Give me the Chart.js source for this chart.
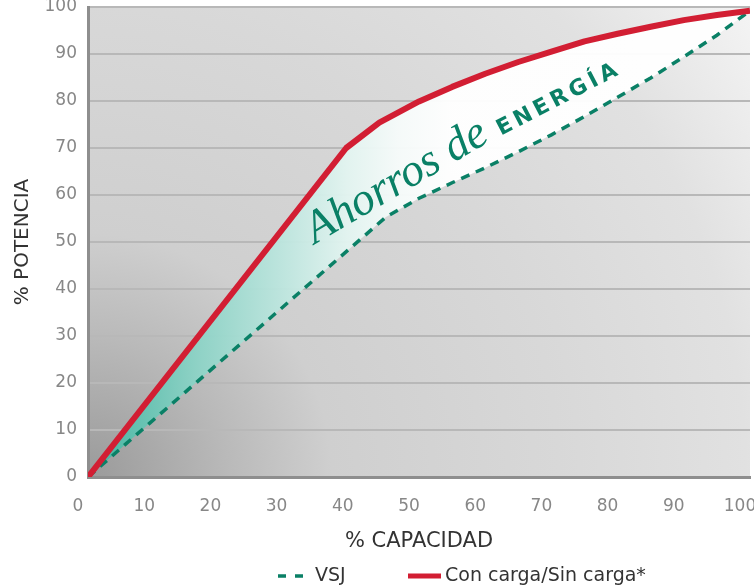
<!DOCTYPE html>
<html>
<head>
<meta charset="utf-8">
<script src="https://cdn.jsdelivr.net/npm/chart.js@4.4.1/dist/chart.umd.min.js"></script>
<style>
  html, body { margin: 0; padding: 0; background: #fff; }
  #wrap { width: 754px; height: 586px; }
</style>
</head>
<body>
<div id="wrap"><canvas id="ahorro-chart"></canvas></div>
<script>
  // % capacidad / % potencia
  var capacidadVSJ = [0, 45, 50, 55, 60, 65, 70, 75, 80, 85, 90, 95, 100];
  var potenciaVSJ = [0, 55.3, 59.3, 62.6, 65.8, 69.2, 72.8, 76.7, 80.8, 84.9, 89.4, 94, 99.2];
  var capacidadCarga = [0, 39, 44, 50, 55, 60, 65, 70, 75, 80, 85, 90, 95, 100];
  var potenciaCarga = [0, 70, 75.4, 79.9, 83, 85.8, 88.3, 90.5, 92.7, 94.3, 95.8, 97.2, 98.3, 99.2];
  var seriesNames = ['VSJ', 'Con carga/Sin carga*'];
  var axisTitles = ['% CAPACIDAD', '% POTENCIA'];
  var tickStep = 10;

  var green = '#0a8066';
  var red = '#d21e33';
  var fontFamily = "'DejaVu Sans', sans-serif";

  function points(xs, ys) {
    return xs.map(function(x, i) { return { x: x, y: ys[i] }; });
  }

  // soft teal -> white fill between both curves
  function savingsFill(context) {
    var chart = context.chart;
    if (!chart.chartArea) return 'rgba(120,200,185,0.8)';
    var xs = chart.scales.x;
    var g = chart.ctx.createLinearGradient(xs.getPixelForValue(0), 0, xs.getPixelForValue(55), 0);
    g.addColorStop(0, 'rgba(60,176,156,0.97)');
    g.addColorStop(0.1, 'rgba(88,190,172,0.96)');
    g.addColorStop(0.3, 'rgba(140,211,198,0.95)');
    g.addColorStop(0.55, 'rgba(192,231,224,0.95)');
    g.addColorStop(0.71, 'rgba(226,244,240,0.96)');
    g.addColorStop(0.85, 'rgba(246,251,250,0.96)');
    g.addColorStop(1, 'rgba(255,255,255,0.96)');
    return g;
  }

  var backdrop = {
    id: 'backdrop',
    beforeDraw: function(chart) {
      var a = chart.chartArea, ctx = chart.ctx;
      if (!a) return;
      var w = a.right - a.left, h = a.bottom - a.top;
      var r = Math.sqrt(w * w + h * h);
      var g = ctx.createRadialGradient(a.left, a.bottom, 0, a.left, a.bottom, r);
      g.addColorStop(0, '#9a9a9a');
      g.addColorStop(0.17, '#b9b9b9');
      g.addColorStop(0.3, '#cfcfcf');
      g.addColorStop(0.58, '#d8d8d8');
      g.addColorStop(0.81, '#e1e1e1');
      g.addColorStop(1, '#f4f4f4');
      ctx.save();
      ctx.fillStyle = g;
      ctx.fillRect(a.left, a.top, w, h);
      ctx.restore();
    }
  };

  var labels = {
    id: 'labels',
    afterDatasetsDraw: function(chart) {
      var ctx = chart.ctx, xs = chart.scales.x, ys = chart.scales.y;
      ctx.save();
      ctx.fillStyle = green;
      ctx.textBaseline = 'alphabetic';
      ctx.translate(xs.getPixelForValue(34.3), ys.getPixelForValue(49.5));
      ctx.rotate(-30.5 * Math.PI / 180);
      ctx.font = "italic 46px 'Liberation Serif', serif";
      ctx.fillText('Ahorros de', 0, 0);
      ctx.restore();

      ctx.save();
      ctx.fillStyle = green;
      ctx.translate(xs.getPixelForValue(62.4), ys.getPixelForValue(72.6));
      ctx.rotate(-27.5 * Math.PI / 180);
      ctx.font = "bold 22px " + fontFamily;
      ctx.letterSpacing = '4px';
      ctx.fillText('ENERGÍA', 0, 0);
      ctx.restore();
    },
    afterDraw: function(chart) {
      // legend row under the axis title
      var ctx = chart.ctx, a = chart.chartArea;
      var y = chart.height - 10;
      var x0 = a.left + 190;
      ctx.save();
      ctx.font = "19px " + fontFamily;
      ctx.fillStyle = '#333';
      ctx.textBaseline = 'middle';
      ctx.strokeStyle = green;
      ctx.lineWidth = 3.5;
      ctx.setLineDash([8, 9]);
      ctx.beginPath();
      ctx.moveTo(x0, y);
      ctx.lineTo(x0 + 26, y);
      ctx.stroke();
      ctx.fillText(seriesNames[0], x0 + 37, y);
      ctx.setLineDash([]);
      ctx.strokeStyle = red;
      ctx.lineWidth = 5;
      ctx.beginPath();
      ctx.moveTo(x0 + 130, y);
      ctx.lineTo(x0 + 163, y);
      ctx.stroke();
      ctx.fillText(seriesNames[1], x0 + 167, y);
      ctx.restore();
    }
  };

  new Chart(document.getElementById('ahorro-chart'), {
    type: 'line',
    data: {
      datasets: [{
        label: seriesNames[0],
        data: points(capacidadVSJ, potenciaVSJ),
        borderColor: green,
        borderWidth: 3.5,
        borderDash: [9, 7],
        pointRadius: 0,
        tension: 0,
        fill: false,
        order: 2
      }, {
        label: seriesNames[1],
        data: points(capacidadCarga, potenciaCarga),
        borderColor: red,
        borderWidth: 6,
        borderJoinStyle: 'round',
        pointRadius: 0,
        tension: 0,
        fill: '-1',
        backgroundColor: savingsFill,
        order: 1
      }]
    },
    options: {
      responsive: true,
      maintainAspectRatio: false,
      animation: false,
      layout: { padding: { left: 11, right: 0, top: 7, bottom: 28 } },
      scales: {
        x: {
          type: 'linear',
          min: 0, max: 100,
          afterFit: function(scale) { scale.paddingRight = 4; scale.paddingLeft = 0; scale.height = 81; },
          ticks: {
            stepSize: tickStep,
            color: '#878787',
            font: { family: fontFamily, size: 17 },
            padding: 19,
            labelOffset: -10
          },
          grid: { display: false, drawTicks: false },
          border: { display: true, color: '#8e8e8e', width: 3 },
          title: {
            display: true,
            text: axisTitles[0],
            color: '#333',
            font: { family: fontFamily, size: 21 },
            padding: { top: 13, bottom: 4 }
          }
        },
        y: {
          min: 0, max: 100,
          afterFit: function(scale) { scale.paddingTop = 0; scale.width = 77; },
          ticks: {
            stepSize: tickStep,
            color: '#878787',
            font: { family: fontFamily, size: 17 },
            padding: 11
          },
          grid: { color: '#b8b8b8', lineWidth: 2, drawTicks: false },
          border: { display: true, color: '#8e8e8e', width: 3 },
          title: {
            display: true,
            text: axisTitles[1],
            color: '#333',
            font: { family: fontFamily, size: 20 },
            padding: { top: 0, bottom: 8 }
          }
        }
      },
      plugins: {
        legend: { display: false },
        tooltip: { enabled: false },
        filler: { drawTime: 'beforeDatasetsDraw' }
      }
    },
    plugins: [backdrop, labels]
  });
</script>
</body>
</html>
